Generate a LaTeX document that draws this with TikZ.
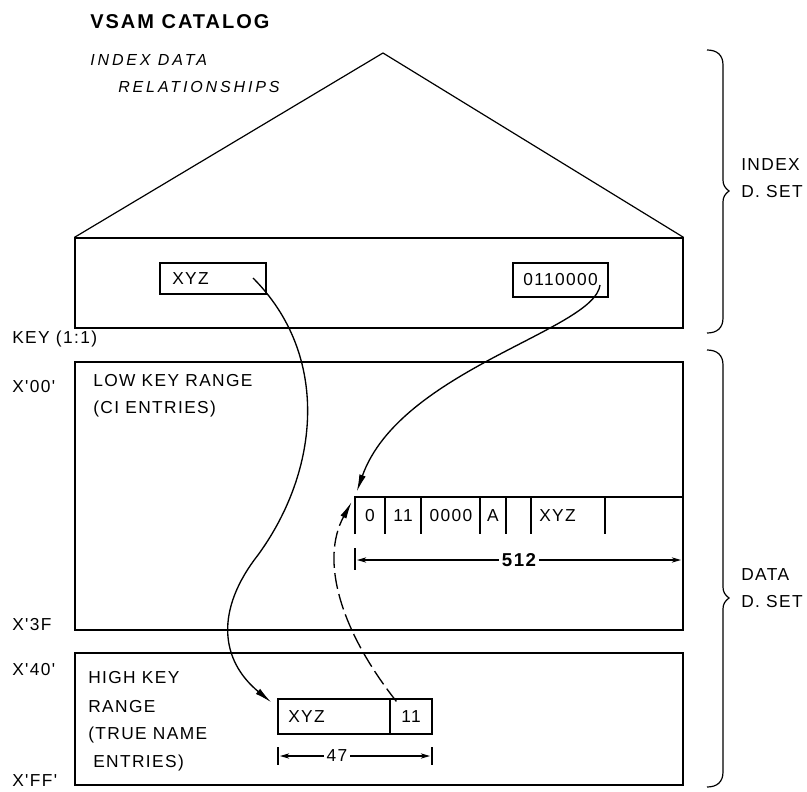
\documentclass[tikz,border=0pt]{standalone}
\usepackage{fontspec}
\setmainfont{Liberation Sans}
\newfontfamily\lblfont[LetterSpace=8]{Liberation Sans}
\newfontfamily\titlefont[LetterSpace=10]{Liberation Sans}
\newfontfamily\itfont[LetterSpace=18]{Liberation Sans}
\usetikzlibrary{arrows.meta,fit}
\begin{document}
\begin{tikzpicture}[x=0.75pt,y=-0.75pt,
  box/.style={draw, line width=0.9pt, inner sep=0pt},
  ln/.style={line width=0.9pt},
  lbl/.style={font=\lblfont\fontsize{13pt}{15pt}\selectfont, inner sep=0pt, anchor=west},
  ttl/.style={font=\titlefont\bfseries\fontsize{15pt}{17pt}\selectfont, inner sep=0pt, anchor=west},
  itl/.style={font=\itfont\itshape\fontsize{12pt}{14pt}\selectfont, inner sep=0pt, anchor=west},
  conn/.style={line width=1pt, -{Latex[length=13pt,width=5pt]}},
  dconn/.style={conn, dash pattern=on 12pt off 4pt},
  dim/.style={line width=0.9pt, {Stealth[length=7pt,width=4pt]}-{Stealth[length=7pt,width=4pt]}},
  brc/.style={line width=0.9pt}]
\useasboundingbox (0,0) rectangle (807,792);

% titles
\node[ttl] (title) at (90,22) {VSAM CATALOG};
\node[itl] (it1) at (90,60) {INDEX DATA};
\node[itl] (it2) at (118,87) {RELATIONSHIPS};

% index set
\node[box, fit={(75,238)(683,328)}] (idx) {};
\coordinate (apex) at (383,53);
\draw[ln] (idx.north west) -- (apex) -- (idx.north east);
\node[box, fit={(160,263)(266,294)}] (xyz1) {};
\node[lbl] (xyz1t) at (172,279) {XYZ};
\node[box, fit={(513,263)(608,297)}] (bin1) {};
\node[lbl] (bin1t) at (523,280) {0110000};

% left labels
\node[lbl] (key) at (12,339) {KEY (1:1)};
\node[lbl] (x00) at (12,387) {X'00'};
\node[lbl] (x3f) at (12,625) {X'3F};
\node[lbl] (x40) at (12,670) {X'40'};
\node[lbl] (xff) at (12,781) {X'FF'};

% low key range box
\node[box, fit={(75,362)(683,630)}] (low) {};
\node[lbl] (lowt1) at (93,381) {LOW KEY RANGE};
\node[lbl] (lowt2) at (93,409) {(CI ENTRIES)};

% CI record
\draw[ln] (355,534) -- (355,497) -- (683,497);
\foreach \xx in {385,421,480,506,531,605} \draw[ln] (\xx,497) -- (\xx,534);
\node[fit={(355,497)(385,534)}, inner sep=0pt] (cell0) {};
\node[lbl, anchor=center] (c0) at (370,516) {0};
\node[lbl, anchor=center] (c1) at (403,516) {11};
\node[lbl, anchor=center] (c2) at (451,516) {0000};
\node[lbl, anchor=center] (c3) at (493,516) {A};
\node[lbl] (c5) at (539,516) {XYZ};
\draw[ln] (355,548) -- (355,570);
\draw[ln] (683,545) -- (683,573);
\draw[dim] (357,560) -- node[fill=white, inner sep=2pt, font=\lblfont\bfseries\fontsize{14pt}{16pt}\selectfont] (d512) {512} (681,560);

% high key range box
\node[box, fit={(75,653)(683,785)}] (high) {};
\node[lbl] (hit1) at (88,678) {HIGH KEY};
\node[lbl] (hit2) at (88,707) {RANGE};
\node[lbl] (hit3) at (88,735) {(TRUE NAME};
\node[lbl] (hit4) at (93,763) {ENTRIES)};
\node[box, fit={(278,699)(390,734)}] (xyz2) {};
\node[lbl] (xyz2t) at (288,717) {XYZ};
\node[box, fit={(390,699)(432,734)}] (n11) {};
\node[lbl, anchor=center] (n11t) at (411,717) {11};
\draw[ln] (278,747) -- (278,765);
\draw[ln] (432,747) -- (432,765);
\draw[dim] (280,756) -- node[pos=0.38, fill=white, inner sep=2pt, font=\lblfont\fontsize{13pt}{15pt}\selectfont] (d47) {47} (430,756);

% braces
\draw[brc] (707,50) .. controls (717,50) and (723,55) .. (723,65) -- (723,180)
  .. controls (723,185) and (725,188) .. (729,191) .. controls (725,194) and (723,197) .. (723,202)
  -- (723,318) .. controls (723,328) and (717,333) .. (707,333);
\draw[brc] (707,350) .. controls (717,350) and (723,355) .. (723,365) -- (723,587)
  .. controls (723,592) and (725,595) .. (729,598) .. controls (725,601) and (723,604) .. (723,609)
  -- (723,772) .. controls (723,782) and (717,787) .. (707,787);
\node[lbl] (ri1) at (741,165) {INDEX};
\node[lbl] (ri2) at (741,192) {D. SET};
\node[lbl] (rd1) at (741,575) {DATA};
\node[lbl] (rd2) at (741,602) {D. SET};

% connectors
\coordinate (s1) at (253,278);
\draw[conn] (s1) .. controls (330,355) and (320,470) .. (258,555)
  .. controls (215,610) and (220,660) .. ([shift={(-6,4)}]xyz2.north west);
\coordinate (s2) at (600,285);
\draw[conn] (s2) .. controls (595,330) and (400,370) .. ([shift={(2,-5)}]cell0.north west);
\draw[dconn] ([shift={(7,3)}]n11.north west) .. controls (340,630) and (320,560) .. ([shift={(-3,5)}]cell0.north west);
\end{tikzpicture}
\end{document}
